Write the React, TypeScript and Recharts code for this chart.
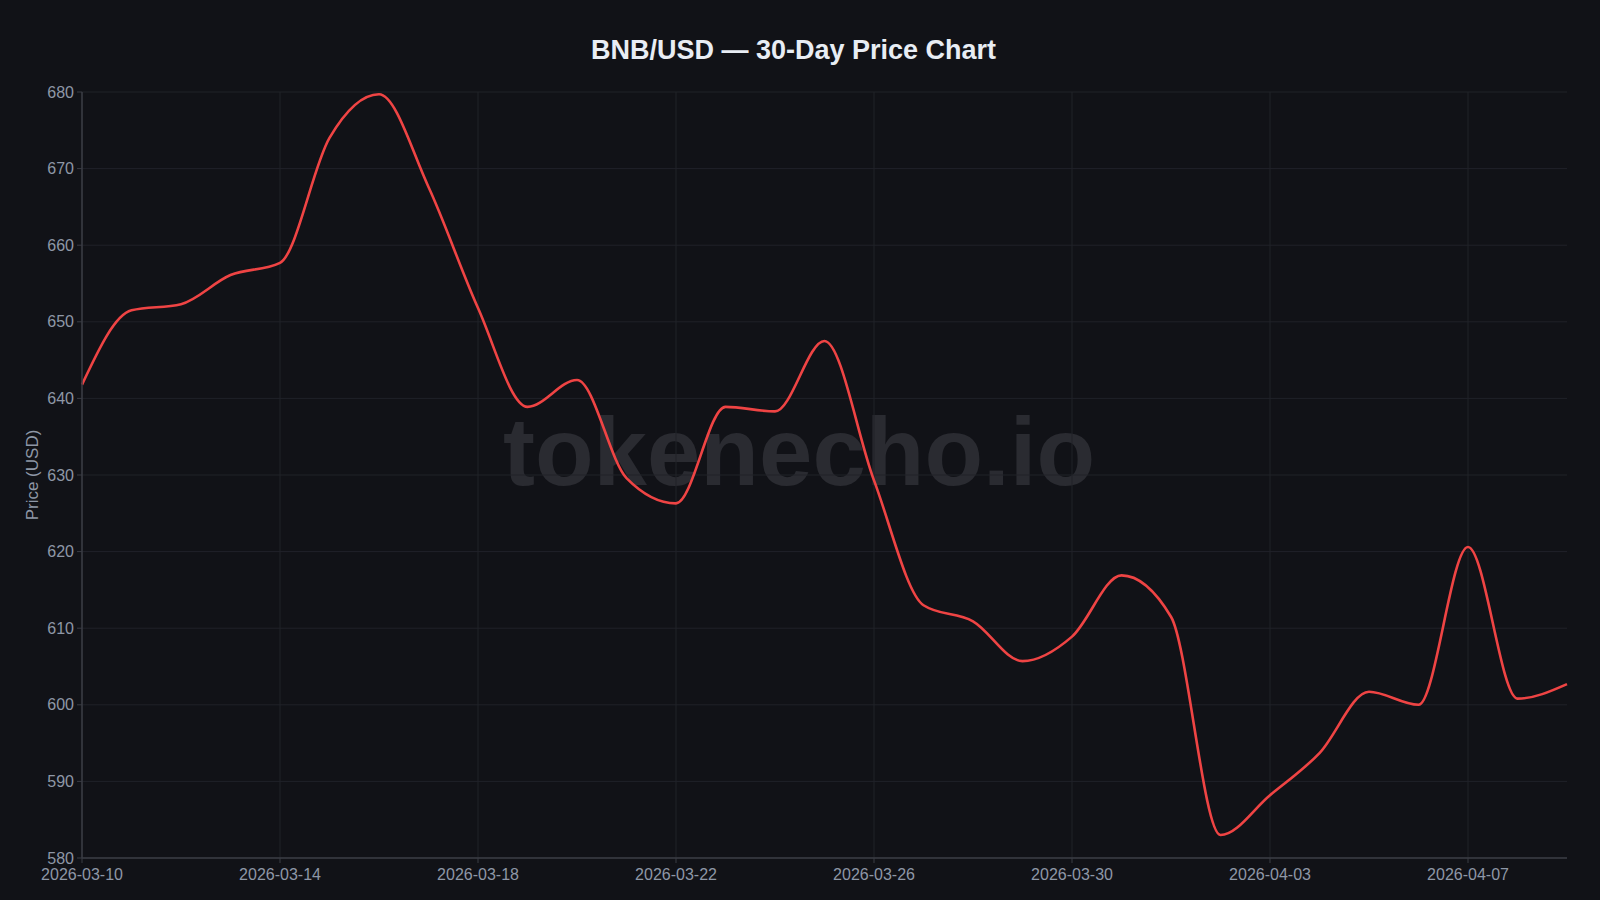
import { LineChart, Line, XAxis, YAxis, CartesianGrid } from "recharts";

const dates = [
  "2026-03-10", "2026-03-11", "2026-03-12", "2026-03-13", "2026-03-14", "2026-03-15",
  "2026-03-16", "2026-03-17", "2026-03-18", "2026-03-19", "2026-03-20", "2026-03-21",
  "2026-03-22", "2026-03-23", "2026-03-24", "2026-03-25", "2026-03-26", "2026-03-27",
  "2026-03-28", "2026-03-29", "2026-03-30", "2026-03-31", "2026-04-01", "2026-04-02",
  "2026-04-03", "2026-04-04", "2026-04-05", "2026-04-06", "2026-04-07", "2026-04-08",
  "2026-04-09",
];

const prices = [
  641.8, 651.5, 652.3, 656.1, 657.7, 674.0,
  679.7, 667.6, 651.8, 638.9, 642.4, 629.6,
  626.3, 638.9, 638.3, 647.5, 629.3, 613.0,
  610.9, 605.7, 608.9, 616.9, 611.5, 583.0,
  588.2, 593.7, 601.7, 600.0, 620.6, 600.8,
  602.7,
];

const xTicks = [
  "2026-03-10", "2026-03-14", "2026-03-18", "2026-03-22",
  "2026-03-26", "2026-03-30", "2026-04-03", "2026-04-07",
];

const yTicks = [580, 590, 600, 610, 620, 630, 640, 650, 660, 670, 680];

const data = dates.map((d, i) => ({ date: d, price: prices[i] }));

const font = '"Liberation Sans", Arial, Helvetica, sans-serif';
const tickStyle = { fill: "#8e97a6", fontSize: 16, fontFamily: font };

export default function App() {
  return (
    <div
      style={{
        position: "fixed",
        left: 0,
        top: 0,
        width: 1600,
        height: 900,
        background: "#111217",
        fontFamily: font,
        overflow: "hidden",
      }}
    >
      {/* title */}
      <div
        style={{
          position: "absolute",
          left: 0,
          top: 34,
          width: 1587,
          textAlign: "center",
          color: "#e8edf4",
          fontSize: 27,
          fontWeight: 700,
          lineHeight: "32px",
        }}
      >
        BNB/USD — 30-Day Price Chart
      </div>

      {/* watermark */}
      <div
        style={{
          position: "absolute",
          left: 0,
          top: 397,
          width: 1598,
          textAlign: "center",
          color: "#2a2b31",
          fontSize: 96,
          fontWeight: 700,
          lineHeight: "110px",
        }}
      >
        tokenecho.io
      </div>

      {/* y axis title */}
      <div
        style={{
          position: "absolute",
          left: 33,
          top: 475,
          color: "#8e97a6",
          fontSize: 17,
          whiteSpace: "nowrap",
          transform: "translate(-50%, -50%) rotate(-90deg)",
        }}
      >
        Price (USD)
      </div>

      <div style={{ position: "absolute", left: 0, top: 0 }}>
        <LineChart
          width={1600}
          height={900}
          data={data}
          margin={{ top: 92, right: 33, bottom: 12, left: 22 }}
        >
          <CartesianGrid
            stroke="#202229"
            strokeWidth={1}
            verticalValues={xTicks}
            horizontalValues={yTicks}
          />
          <XAxis
            dataKey="date"
            ticks={xTicks}
            interval={0}
            height={30}
            tick={tickStyle}
            tickSize={5}
            tickMargin={6}
            stroke="#3a3c44"
            tickLine={{ stroke: "#3a3c44" }}
            axisLine={{ stroke: "#3a3c44", strokeWidth: 1.5 }}
          />
          <YAxis
            width={60}
            domain={[580, 680]}
            ticks={yTicks}
            tick={tickStyle}
            tickSize={5}
            tickMargin={3}
            stroke="#3a3c44"
            tickLine={{ stroke: "#3a3c44" }}
            axisLine={{ stroke: "#3a3c44", strokeWidth: 1.5 }}
            allowDataOverflow
          />
          <Line
            type="monotone"
            dataKey="price"
            stroke="#ef4444"
            strokeWidth={2.6}
            dot={false}
            isAnimationActive={false}
          />
        </LineChart>
      </div>
    </div>
  );
}
